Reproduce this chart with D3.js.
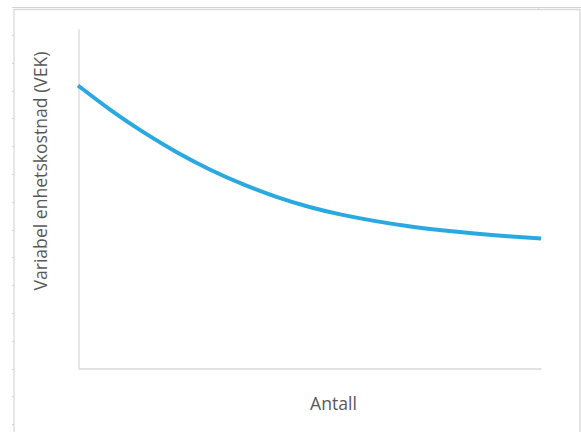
<!DOCTYPE html>
<html>
<head>
<meta charset="utf-8">
<script src="https://cdn.jsdelivr.net/npm/d3@7"></script>
<style>
  html, body { margin: 0; padding: 0; background: #fff; }
  svg { display: block; }
  text { font-family: "Open Sans", "DejaVu Sans", sans-serif; fill: #595959; }
</style>
</head>
<body>
<svg id="chart" width="581" height="432"></svg>
<script>
// Antall (quantity) steps along the x axis
const antall = [0, 1, 2, 3, 4, 5, 6, 7, 8, 9, 10, 11, 12, 13, 14];
// Variable unit cost at each quantity
const vek = [10.0, 9.12, 8.33, 7.63, 7.02, 6.50, 6.06, 5.70, 5.42, 5.20, 5.02, 4.88, 4.76, 4.66, 4.58];
const xTitle = "Antall";
const yTitle = "Variabel enhetskostnad (VEK)";

const svg = d3.select("#chart");
const W = 581, H = 432;

// Sheet background: column rule along the top and row ticks on the left edge
const sheet = svg.append("g").attr("stroke", "#d4d4d4").attr("stroke-width", 1).attr("shape-rendering", "crispEdges");
sheet.append("line").attr("x1", 12).attr("x2", W).attr("y1", 7.5).attr("y2", 7.5);
sheet.append("line").attr("x1", 538.5).attr("x2", 538.5).attr("y1", 7).attr("y2", 9);
const rowTicks = d3.range(35, H, 27.8);
sheet.selectAll(".rt").data(rowTicks).join("line")
  .attr("x1", 11.5).attr("x2", 14)
  .attr("y1", d => Math.round(d) + 0.5).attr("y2", d => Math.round(d) + 0.5);

// Chart frame
const frame = svg.append("g").attr("stroke", "#d9d9d9").attr("stroke-width", 1.3).attr("fill", "none");
frame.append("path").attr("d", `M14,${H} V9.5 H580 V${H}`);

// Plot area
const margin = { left: 78, right: 40, top: 29, bottom: 64 };
const x = d3.scaleLinear().domain([0, 14]).range([margin.left, W - margin.right]);
const y = d3.scaleLinear().domain([0, 12]).range([H - margin.bottom, margin.top]);

// Axis lines without ticks or labels
const axisColor = "#d9d9d9";
const xAxis = svg.append("g")
  .attr("transform", `translate(0,${y(0) + 0.5})`)
  .call(d3.axisBottom(x).tickValues([]).tickSizeOuter(0));
xAxis.select(".domain").attr("stroke", axisColor).attr("stroke-width", 1.3);
const yAxis = svg.append("g")
  .attr("transform", `translate(${x(0) + 0.5},0)`)
  .call(d3.axisLeft(y).tickValues([]).tickSizeOuter(0));
yAxis.select(".domain").attr("stroke", axisColor).attr("stroke-width", 1.3);

// Cost curve
const line = d3.line()
  .x((d, i) => x(antall[i]))
  .y(d => y(d))
  .curve(d3.curveNatural);
svg.append("path")
  .datum(vek)
  .attr("d", line)
  .attr("fill", "none")
  .attr("stroke", "#2aa9e0")
  .attr("stroke-width", 4)
  .attr("stroke-linecap", "butt");

// Axis titles
svg.append("text")
  .attr("x", 333.5).attr("y", 410)
  .attr("text-anchor", "middle")
  .attr("font-size", 17.6)
  .text(xTitle);
svg.append("text")
  .attr("transform", "translate(47,171) rotate(-90)")
  .attr("text-anchor", "middle")
  .attr("font-size", 17.6)
  .text(yTitle);
</script>
</body>
</html>
